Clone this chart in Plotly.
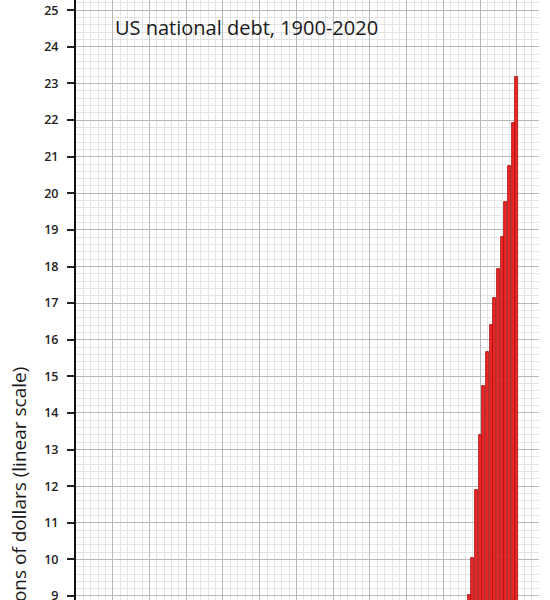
import plotly.graph_objects as go

# debt in trillions of dollars, only the years that show in this crop
years = [2007, 2008, 2009, 2010, 2011, 2012, 2013, 2014, 2015, 2016, 2017, 2018, 2019, 2020]
debt = [9.02, 10.03, 11.9, 13.4, 14.73, 15.66, 16.4, 17.14, 17.93, 18.81, 19.76, 20.74, 21.92, 23.18]

y_ticks = list(range(9, 26))

fig = go.Figure()
fig.add_trace(go.Bar(
    x=years,
    y=debt,
    width=0.82,
    marker=dict(color="#ee2626", line=dict(color="#a30d0d", width=0.8)),
    hoverinfo="x+y",
))

fig.update_layout(
    width=550,
    height=600,
    margin=dict(l=76, r=11, t=0, b=0, autoexpand=False),
    plot_bgcolor="white",
    paper_bgcolor="white",
    showlegend=False,
    bargap=0,
    font=dict(family="Open Sans", color="#222"),
)

fig.update_xaxes(
    range=[1900, 2026],
    showticklabels=False,
    ticks="",
    dtick=10,
    tick0=1900,
    showgrid=True,
    gridcolor="#b8b8b8",
    gridwidth=1,
    minor=dict(dtick=2, tick0=1900, showgrid=True, gridcolor="#e4e4e4", gridwidth=1),
    zeroline=False,
    showline=False,
    automargin=False,
)

fig.update_yaxes(
    range=[8.89, 25.28],
    tickvals=y_ticks,
    ticktext=[str(v) for v in y_ticks],
    ticks="outside",
    ticklen=7,
    tickwidth=2,
    tickcolor="#222",
    ticklabelstandoff=6,
    ticklabeloverflow="allow",
    tickfont=dict(size=12.5, color="#222", weight=600),
    showgrid=True,
    gridcolor="#b8b8b8",
    gridwidth=1,
    minor=dict(dtick=0.2, tick0=0, showgrid=True, gridcolor="#e4e4e4", gridwidth=1),
    showline=True,
    linecolor="#111",
    linewidth=2,
    zeroline=False,
    automargin=False,
)

fig.add_annotation(
    text="US national debt, 1900-2020",
    xref="paper", yref="paper",
    x=(113 - 76) / 463, y=1 - 12 / 600,
    xanchor="left", yanchor="top",
    showarrow=False,
    font=dict(size=20, color="#1a1a1a", family="Open Sans"),
)

fig.add_annotation(
    text="Trillions of dollars (linear scale)",
    xref="paper", yref="paper",
    x=(18 - 76) / 463, y=(600 - 365) / 600,
    xanchor="center", yanchor="top",
    textangle=-90,
    showarrow=False,
    font=dict(size=19, color="#1a1a1a", family="Open Sans"),
)

# the page's default body margin would push the chart 8px in
fig.write_html(
    "out.html",
    config={"displayModeBar": False},
    post_script="document.body.style.margin='0';",
)
